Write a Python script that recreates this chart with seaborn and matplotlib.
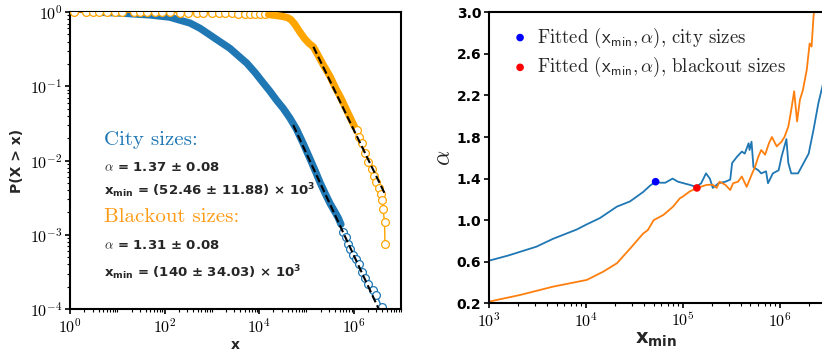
import numpy as np
import pandas as pd
import matplotlib
matplotlib.use("Agg")
import matplotlib.pyplot as plt
from matplotlib.ticker import FixedLocator, LogLocator, FuncFormatter, NullFormatter
from matplotlib.font_manager import FontProperties
import seaborn as sns

# ---- complementary CDF, city sizes ----
city_body_x = [5, 10, 49, 129, 347, 562, 912, 1480, 2400, 3630, 5500, 8320, 12300,
               17000, 23400, 32400, 44700, 61700, 85100, 117500, 151000, 195000,
               251000, 316000, 398000, 468000, 537000]
city_body_p = [0.985, 0.972, 0.912, 0.851, 0.708, 0.603, 0.490, 0.398, 0.324, 0.257,
               0.204, 0.151, 0.110, 0.0851, 0.0646, 0.0501, 0.0372, 0.0263, 0.0170,
               0.0107, 0.00741, 0.00501, 0.00355, 0.00263, 0.00204, 0.00170, 0.00138]
city_tail_x = [603000, 676000, 759000, 851000, 977000, 1.10e6, 1.26e6, 1.48e6,
               1.74e6, 2.04e6, 2.51e6, 3.02e6, 3.89e6]
city_tail_p = [1.10e-3, 9.3e-4, 7.6e-4, 6.5e-4, 5.4e-4, 4.7e-4, 4.1e-4, 3.2e-4,
               2.6e-4, 2.2e-4, 1.8e-4, 1.55e-4, 1.07e-4]

# ---- complementary CDF, blackout sizes ----
blackout_head_x = [1.2, 2.2, 3.1, 4.0, 6.0, 8.9, 12.6, 22, 30, 42, 63, 87, 129, 214,
                   316, 479, 661, 1000, 1380, 1905, 2630, 3630, 5010, 6310, 8130,
                   10500, 13200]
blackout_head_p = [1.0, 0.999, 0.998, 0.997, 0.996, 0.995, 0.994, 0.993, 0.992,
                   0.991, 0.99, 0.988, 0.986, 0.983, 0.98, 0.977, 0.974, 0.97, 0.966,
                   0.962, 0.958, 0.954, 0.95, 0.946, 0.942, 0.937, 0.932]
blackout_body_x = [15800, 22400, 31600, 39800, 46800, 56200, 70800, 89100, 112000,
                   140000, 178000, 240000, 316000, 417000, 525000, 646000, 851000,
                   1.05e6]
blackout_body_p = [0.923, 0.90, 0.87, 0.84, 0.79, 0.69, 0.55, 0.447, 0.38, 0.339,
                   0.257, 0.182, 0.135, 0.093, 0.071, 0.0537, 0.0372, 0.0282]
blackout_tail_x = [1.15e6, 1.32e6, 1.48e6, 1.74e6, 2.04e6, 2.40e6, 2.69e6, 3.02e6,
                   3.47e6, 3.80e6, 3.98e6, 4.17e6, 4.47e6, 4.57e6]
blackout_tail_p = [0.0257, 0.0209, 0.0170, 0.0126, 0.00955, 0.00776, 0.00617,
                   0.00513, 0.00427, 0.00355, 0.00295, 0.00224, 0.00148, 7.4e-4]

# ---- fitted power laws ----
city_alpha, city_alpha_err = 1.37, 0.08
city_xmin, city_xmin_err = 52460, 11880
city_p_at_xmin, city_fit_end = 0.030, 4.0e6
blackout_alpha, blackout_alpha_err = 1.31, 0.08
blackout_xmin, blackout_xmin_err = 140000, 34030
blackout_p_at_xmin, blackout_fit_end = 0.34, 4.6e6

# ---- alpha estimated as a function of x_min ----
city_xmin_scan = [1000, 1585, 3090, 4570, 8040, 10230, 13960, 20890, 28510, 38900,
                  45710, 52460, 58880, 66070, 78520, 89130, 97720, 117500, 138000,
                  154900, 173800, 190500, 204200, 234400, 275400, 309000, 323600,
                  363100, 407400, 436500, 478600, 489800, 512900, 537000, 602600,
                  645700, 724400, 758600, 851100, 977200, 1.047e6, 1.175e6, 1.230e6,
                  1.318e6, 1.549e6, 1.995e6, 2.239e6, 2.512e6, 2.754e6, 2.951e6]
city_alpha_scan = [0.61, 0.66, 0.745, 0.82, 0.91, 0.96, 1.02, 1.13, 1.18, 1.27,
                   1.33, 1.37, 1.36, 1.36, 1.40, 1.37, 1.36, 1.34, 1.32, 1.355,
                   1.45, 1.40, 1.31, 1.355, 1.37, 1.39, 1.55, 1.61, 1.66, 1.64,
                   1.74, 1.675, 1.755, 1.51, 1.48, 1.45, 1.47, 1.355, 1.45, 1.48,
                   1.61, 1.78, 1.55, 1.45, 1.45, 1.64, 1.87, 2.125, 2.28, 2.40]
blackout_xmin_scan = [1000, 2089, 4571, 10230, 15140, 20890, 28840, 38900, 43650,
                      50120, 63100, 79430, 93330, 101200, 117500, 140000, 177800,
                      204200, 223900, 239900, 275400, 309000, 331100, 371500, 407400,
                      457100, 512900, 555900, 602600, 645700, 707900, 776200, 831800,
                      933300, 1.047e6, 1.122e6, 1.230e6, 1.318e6, 1.413e6, 1.514e6,
                      1.622e6, 1.738e6, 1.905e6, 2.042e6, 2.138e6, 2.239e6, 2.344e6]
blackout_alpha_scan = [0.216, 0.28, 0.36, 0.425, 0.505, 0.585, 0.73, 0.87, 0.905,
                       1.00, 1.05, 1.13, 1.21, 1.23, 1.275, 1.31, 1.34, 1.34, 1.31,
                       1.37, 1.34, 1.29, 1.355, 1.37, 1.42, 1.32, 1.435, 1.51, 1.61,
                       1.675, 1.63, 1.74, 1.80, 1.71, 1.755, 1.80, 1.90, 2.06, 2.24,
                       1.95, 2.16, 2.25, 2.445, 2.70, 2.67, 2.96, 3.10]

BLUE = "#1f77b4"
ORANGE_CCDF = "#ffa500"
ORANGE_TXT = "#ff9a14"
ORANGE_SCAN = "#ff7f0e"

sns.set_style("ticks")
plt.rcParams.update({
    "font.family": ["DejaVu Sans"],
    "font.weight": "bold",
    "axes.labelweight": "bold",
    "mathtext.fontset": "cm",
    "axes.linewidth": 1.5,
    "axes.edgecolor": "black",
    "xtick.color": "black",
    "ytick.color": "black",
    "xtick.major.width": 1.2,
    "ytick.major.width": 1.2,
    "xtick.minor.width": 0.8,
    "ytick.minor.width": 0.8,
    "xtick.major.size": 3.5,
    "ytick.major.size": 3.5,
    "xtick.minor.size": 2.0,
    "ytick.minor.size": 2.0,
})

fig = plt.figure(figsize=(8.22, 3.53), dpi=100)
ax1 = fig.add_axes([0.0852, 0.1246, 0.4027, 0.8414])
ax2 = fig.add_axes([0.5949, 0.1408, 0.4075, 0.8244])

for ax in (ax1, ax2):
    ax.set_xscale("log")
ax1.set_yscale("log")

pow_fmt = FuncFormatter(lambda v, _: r"$\mathbf{10^{%d}}$" % int(round(np.log10(v))))


def ccdf_body(ax, x, p, color, z):
    sns.lineplot(x=x, y=p, ax=ax, sort=False, estimator=None, color=color,
                 lw=5.2, solid_capstyle="round", solid_joinstyle="round", zorder=z)


def ccdf_points(ax, x, p, color, z):
    sns.lineplot(x=x, y=p, ax=ax, sort=False, estimator=None, color=color, lw=1.0,
                 marker="o", markersize=5.6, markerfacecolor="white",
                 markeredgecolor=color, markeredgewidth=0.9, zorder=z)


# left: survival functions
ccdf_body(ax1, city_body_x, city_body_p, BLUE, 2)
ccdf_points(ax1, city_tail_x, city_tail_p, BLUE, 2)
ccdf_points(ax1, blackout_head_x, blackout_head_p, ORANGE_CCDF, 3)
ccdf_body(ax1, blackout_body_x, blackout_body_p, ORANGE_CCDF, 3)
ccdf_points(ax1, blackout_tail_x, blackout_tail_p, ORANGE_CCDF, 3)

for xmin, p0, alpha, xend in [(city_xmin, city_p_at_xmin, city_alpha, city_fit_end),
                              (blackout_xmin, blackout_p_at_xmin, blackout_alpha, blackout_fit_end)]:
    fx = np.array([xmin, xend])
    sns.lineplot(x=fx, y=p0 * (fx / xmin) ** (-alpha), ax=ax1, color="black",
                 lw=1.5, linestyle="--", estimator=None, sort=False, zorder=5)

ax1.set_xlim(1, 1e7)
ax1.set_ylim(1e-4, 1)
ax1.xaxis.set_major_locator(FixedLocator([1, 1e2, 1e4, 1e6]))
ax1.xaxis.set_minor_locator(LogLocator(base=10, subs=np.arange(1, 10), numticks=50))
ax1.xaxis.set_major_formatter(pow_fmt)
ax1.xaxis.set_minor_formatter(NullFormatter())
ax1.yaxis.set_major_locator(FixedLocator([1e-4, 1e-3, 1e-2, 1e-1, 1]))
ax1.yaxis.set_minor_locator(LogLocator(base=10, subs=np.arange(2, 10), numticks=50))
ax1.yaxis.set_major_formatter(pow_fmt)
ax1.yaxis.set_minor_formatter(NullFormatter())
ax1.tick_params(axis="both", which="major", labelsize=11.5, pad=2)
ax1.set_xlabel("x", fontsize=10, labelpad=2)
ax1.set_ylabel("P(X > x)", fontsize=10, labelpad=4)
for s in ax1.spines.values():
    s.set_visible(True)

tx = 0.103
txt_kw = dict(transform=ax1.transAxes, va="center", ha="left", zorder=6)
ax1.text(tx, 0.569, "City sizes:", color=BLUE, family="cmr10", fontsize=15, **txt_kw)
ax1.text(tx, 0.478, r"$\alpha$ = %.2f ± %.2f" % (city_alpha, city_alpha_err),
         fontsize=9.5, **txt_kw)
ax1.text(tx, 0.400, r"$\mathbf{x_{min}}$ = (%.2f ± %.2f) × 10$^{\mathbf{3}}$"
         % (city_xmin / 1e3, city_xmin_err / 1e3),
         fontsize=9.5, math_fontfamily="dejavusans", **txt_kw)
ax1.text(tx, 0.310, "Blackout sizes:", color=ORANGE_TXT, family="cmr10", fontsize=15,
         **txt_kw)
ax1.text(tx, 0.215, r"$\alpha$ = %.2f ± %.2f" % (blackout_alpha, blackout_alpha_err),
         fontsize=9.5, **txt_kw)
ax1.text(tx, 0.121, r"$\mathbf{x_{min}}$ = (%g ± %.2f) × 10$^{\mathbf{3}}$"
         % (blackout_xmin / 1e3, blackout_xmin_err / 1e3),
         fontsize=9.5, math_fontfamily="dejavusans", **txt_kw)

# right: alpha against the lower cutoff
sns.lineplot(x=city_xmin_scan, y=city_alpha_scan, ax=ax2, color=BLUE, lw=1.3,
             sort=False, estimator=None, zorder=2)
sns.lineplot(x=blackout_xmin_scan, y=blackout_alpha_scan, ax=ax2, color=ORANGE_SCAN,
             lw=1.3, sort=False, estimator=None, zorder=2)
sns.scatterplot(x=[city_xmin], y=[city_alpha], ax=ax2, color="blue", s=30,
                edgecolor="none", zorder=4,
                label=r"Fitted $(\mathsf{x_{min}}, \alpha)$, city sizes")
sns.scatterplot(x=[blackout_xmin], y=[blackout_alpha], ax=ax2, color="red", s=30,
                edgecolor="none", zorder=4,
                label=r"Fitted $(\mathsf{x_{min}}, \alpha)$, blackout sizes")

ax2.set_xlim(1e3, 2.87e6)
ax2.set_ylim(0.2, 3.0)
ax2.set_yticks([0.2, 0.6, 1.0, 1.4, 1.8, 2.2, 2.6, 3.0])
ax2.yaxis.set_major_formatter(FuncFormatter(lambda v, _: "%.1f" % v))
ax2.xaxis.set_major_locator(FixedLocator([1e3, 1e4, 1e5, 1e6]))
ax2.xaxis.set_minor_locator(LogLocator(base=10, subs=np.arange(2, 10), numticks=50))
ax2.xaxis.set_major_formatter(pow_fmt)
ax2.xaxis.set_minor_formatter(NullFormatter())
ax2.tick_params(axis="x", which="major", labelsize=11.5, pad=2)
ax2.tick_params(axis="y", which="major", labelsize=10, pad=2)
ax2.set_xlabel(r"$\mathbf{x_{min}}$", fontsize=14, labelpad=0,
               math_fontfamily="dejavusans")
ax2.set_ylabel(r"$\alpha$", fontsize=17, labelpad=1)

leg = ax2.legend(loc="upper left", bbox_to_anchor=(0.02, 1.0), frameon=False,
                 prop=FontProperties(family="cmr10", size=13.5), handletextpad=0.3,
                 labelspacing=0.3, borderaxespad=0.3, handlelength=1.2)

fig.savefig("out.png", dpi=100)
